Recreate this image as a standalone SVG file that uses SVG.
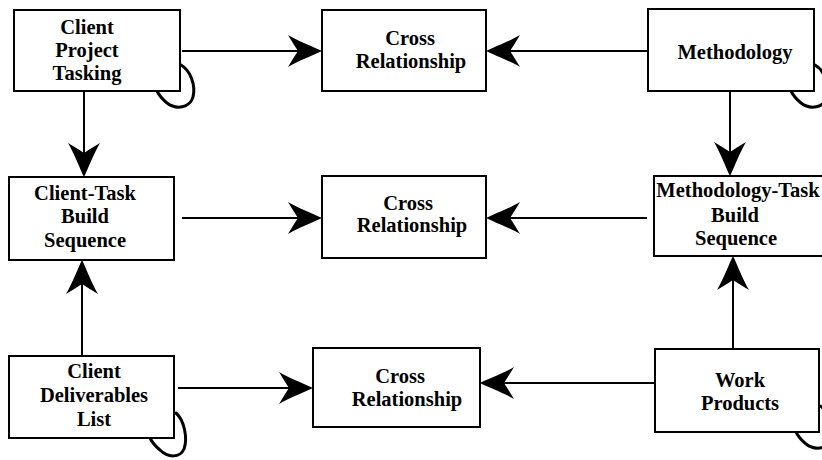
<svg xmlns="http://www.w3.org/2000/svg" width="822" height="460" viewBox="0 0 822 460">
<style>
.box{fill:#fff;stroke:#000;stroke-width:2}
.t{font-weight:bold;font-size:20.5px;fill:#000;text-anchor:middle}
.c{fill:none;stroke:#000;stroke-width:2}
.loop{fill:none;stroke:#000;stroke-width:3;stroke-linecap:round}
</style>
<defs>
<marker id="ah" viewBox="0 -17 34 34" markerWidth="34" markerHeight="34" refX="10" refY="0" orient="auto" markerUnits="userSpaceOnUse">
<path d="M34,0 C26,-4 10,-10 0,-16 Q6,-6 10,0 Q6,6 0,16 C10,10 26,4 34,0Z" fill="#000"/>
</marker>
</defs>
<rect width="822" height="460" fill="#fff"/>
<g id="connectors">
<line class="c" x1="182" y1="51" x2="298" y2="51" marker-end="url(#ah)"/>
<line class="c" x1="648" y1="51" x2="510" y2="51" marker-end="url(#ah)"/>
<line class="c" x1="84" y1="91" x2="84" y2="153" marker-end="url(#ah)"/>
<line class="c" x1="730" y1="91" x2="730" y2="152" marker-end="url(#ah)"/>
<line class="c" x1="182" y1="218" x2="298" y2="218" marker-end="url(#ah)"/>
<line class="c" x1="647" y1="218" x2="510" y2="218" marker-end="url(#ah)"/>
<line class="c" x1="82" y1="356" x2="82" y2="284" marker-end="url(#ah)"/>
<line class="c" x1="733" y1="349" x2="733" y2="280" marker-end="url(#ah)"/>
<line class="c" x1="178" y1="388" x2="289" y2="388" marker-end="url(#ah)"/>
<line class="c" x1="655" y1="383" x2="504" y2="383" marker-end="url(#ah)"/>
</g>
<g id="loops">
<path class="loop" d="M181,65 C190,70 196,85 193,97 C190,108 176,110 167,103 C162,99 159,95 157,91"/>
<path class="loop" d="M815,65 C824,70 830,85 827,97 C824,108 810,110 801,103 C796,99 793,95 791,91"/>
<path class="loop" d="M176,413 C184,420 188,438 184,449 C180,458 168,458 160,450 C155,446 152,442 150,438"/>
<path class="loop" d="M820,406 C829,411 835,426 832,438 C829,449 815,451 806,444 C801,440 798,436 796,432"/>
</g>
<g font-family="'Liberation Serif', 'Times New Roman', Times, 'DejaVu Serif', serif">
<g id="client-project-tasking">
<rect class="box" x="14" y="10" width="166" height="81"/>
<text class="t" x="87" y="34">Client</text>
<text class="t" x="87" y="57">Project</text>
<text class="t" x="87" y="80">Tasking</text>
</g>
<g id="cross-1">
<rect class="box" x="322" y="10" width="164" height="81"/>
<text class="t" x="410" y="45">Cross</text>
<text class="t" x="411" y="68">Relationship</text>
</g>
<g id="methodology">
<rect class="box" x="648" y="9" width="166" height="82"/>
<text class="t" x="735" y="59">Methodology</text>
</g>
<g id="client-task">
<rect class="box" x="9" y="177" width="165" height="83"/>
<text class="t" x="85" y="200">Client-Task</text>
<text class="t" x="85" y="223">Build</text>
<text class="t" x="85" y="247">Sequence</text>
</g>
<g id="cross-2">
<rect class="box" x="322" y="176" width="164" height="82"/>
<text class="t" x="408" y="210">Cross</text>
<text class="t" x="412" y="232">Relationship</text>
</g>
<g id="methodology-task">
<rect class="box" x="654" y="176" width="170" height="80"/>
<text class="t" x="738" y="197">Methodology-Task</text>
<text class="t" x="735" y="222">Build</text>
<text class="t" x="736" y="245">Sequence</text>
</g>
<g id="client-deliverables">
<rect class="box" x="9" y="356" width="165" height="82"/>
<text class="t" x="94" y="378">Client</text>
<text class="t" x="94" y="402">Deliverables</text>
<text class="t" x="94" y="426">List</text>
</g>
<g id="cross-3">
<rect class="box" x="313" y="348" width="167" height="79"/>
<text class="t" x="400" y="383">Cross</text>
<text class="t" x="407" y="406">Relationship</text>
</g>
<g id="work-products">
<rect class="box" x="655" y="349" width="164" height="83"/>
<text class="t" x="740" y="387">Work</text>
<text class="t" x="740" y="410">Products</text>
</g>
</g>
</svg>
